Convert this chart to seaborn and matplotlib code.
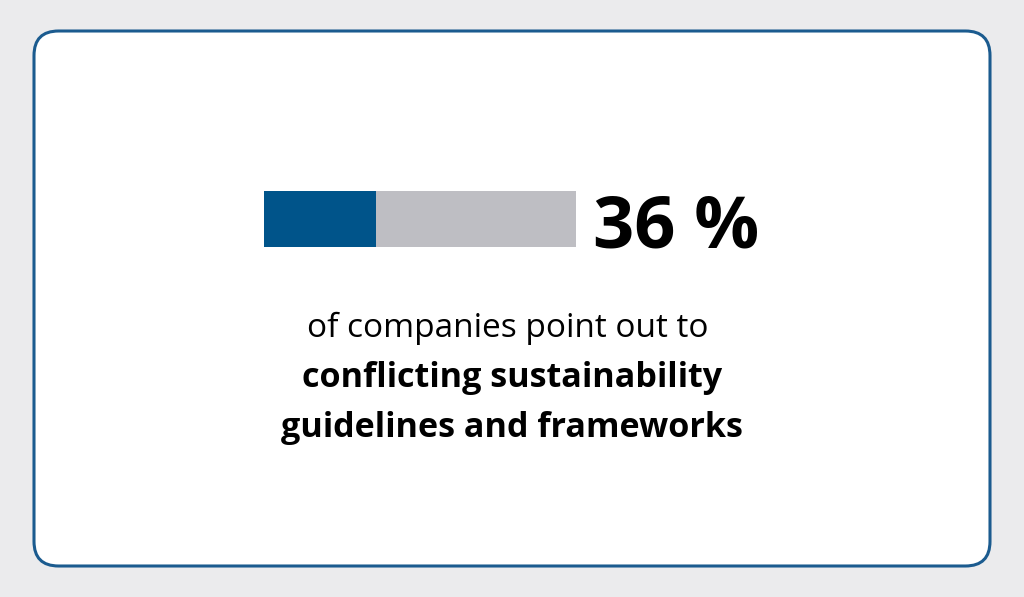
import matplotlib
matplotlib.use("Agg")
import matplotlib.pyplot as plt
from matplotlib.patches import FancyBboxPatch
import pandas as pd
import seaborn as sns

# data
share = [36]
total = [100]
big_label = "36 %"
caption_light = "of companies point out to"
caption_bold = ["conflicting sustainability", "guidelines and frameworks"]

blue = "#00548a"
gray = "#bebec3"
border = "#1b5b8f"
bg = "#ebebed"

sns.set_theme(style="white")
plt.rcParams['font.family'] = ['Open Sans', 'DejaVu Sans']

W, H = 1024, 597
fig = plt.figure(figsize=(W / 100, H / 100), dpi=100)
fig.patch.set_facecolor(bg)

# card (behind everything else)
card = FancyBboxPatch((34 / W, 31 / H), (990 - 34) / W, (566 - 31) / H,
                      boxstyle="round,pad=0,rounding_size=0.024",
                      transform=fig.transFigure, facecolor="white",
                      edgecolor=border, linewidth=2.2, mutation_aspect=W / H,
                      zorder=-5)
fig.patches.append(card)

# progress bar
ax = fig.add_axes([264 / W, (H - 247) / H, 312 / W, 56 / H])
ax.set_zorder(2)
ax.patch.set_visible(False)
df = pd.DataFrame({"cat": ["a"], "total": total, "share": share})
sns.barplot(data=df, x="total", y="cat", color=gray, width=1.0, ax=ax,
            saturation=1, edgecolor="none")
sns.barplot(data=df, x="share", y="cat", color=blue, width=1.0, ax=ax,
            saturation=1, edgecolor="none")
ax.set_xlim(0, 100)
ax.set_ylim(0.5, -0.5)
ax.axis("off")

fig.text(593 / W, (H - 247) / H, big_label, fontsize=52, fontweight="bold",
         color="black", ha="left", va="baseline")

fig.text(508 / W, (H - 337) / H, caption_light, fontsize=24,
         color="black", ha="center", va="baseline")
for i, line in enumerate(caption_bold):
    fig.text(512 / W, (H - 387 - 50 * i) / H, line, fontsize=24.6,
             fontweight="bold", color="black", ha="center", va="baseline")

fig.savefig("out.png", dpi=100, facecolor=bg)
